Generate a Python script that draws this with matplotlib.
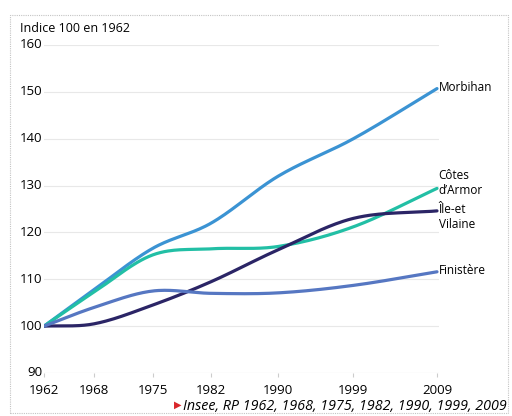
import numpy as np
import matplotlib
matplotlib.use("Agg")
import matplotlib.pyplot as plt
from matplotlib.patches import Rectangle

plt.rcParams['font.family'] = ['Open Sans', 'DejaVu Sans']

years = [1962, 1968, 1975, 1982, 1990, 1999, 2009]
morbihan = [100, 107.8, 116.6, 122.0, 132.0, 140.0, 150.7]
cotes_armor = [100, 107.3, 115.2, 116.5, 117.0, 121.2, 129.4]
ille_vilaine = [100, 100.5, 104.5, 109.5, 116.3, 123.0, 124.6]
finistere = [100, 104.0, 107.5, 107.0, 107.1, 108.7, 111.6]

labels = ["Morbihan", "Côtes\nd\u2019Armor", "Île-et\nVilaine", "Finistère"]
colors = ["#3b93d3", "#22bfa5", "#2b2566", "#5677c2"]
yticks = [90, 100, 110, 120, 130, 140, 150, 160]


def smooth(x, y, n=30):
    # cubic hermite with catmull-rom style tangents
    x = np.asarray(x, float)
    y = np.asarray(y, float)
    m = np.zeros_like(y)
    m[1:-1] = (y[2:] - y[:-2]) / (x[2:] - x[:-2])
    m[0] = (y[1] - y[0]) / (x[1] - x[0])
    m[-1] = (y[-1] - y[-2]) / (x[-1] - x[-2])
    xs, ys = [], []
    for i in range(len(x) - 1):
        h = x[i + 1] - x[i]
        t = np.linspace(0, 1, n, endpoint=False)
        h00 = 2 * t**3 - 3 * t**2 + 1
        h10 = t**3 - 2 * t**2 + t
        h01 = -2 * t**3 + 3 * t**2
        h11 = t**3 - t**2
        xs.append(x[i] + t * h)
        ys.append(h00 * y[i] + h10 * h * m[i] + h01 * y[i + 1] + h11 * h * m[i + 1])
    xs.append([x[-1]])
    ys.append([y[-1]])
    return np.concatenate(xs), np.concatenate(ys)


fig = plt.figure(figsize=(5.12, 4.16), dpi=100)
ax = fig.add_axes([44 / 512, 1 - 373 / 416, (439 - 44) / 512, (373 - 45) / 416])

# dotted frame around the chart
fig.patches.append(Rectangle((10 / 512, 3 / 416), 498 / 512, 398 / 416,
                             transform=fig.transFigure, fill=False,
                             edgecolor="#c4c4c4", linestyle=(0, (1, 1)), lw=0.8))

ax.set_xlim(1962, 2009 + (439 - 437) / 8.36)
ax.set_ylim(90, 160)

for v in yticks[1:]:
    ax.axhline(v, color="#e8e8e8", lw=0.8, zorder=0)
ax.axhline(90, color="#cfcfcf", lw=0.8, zorder=0)

series = [morbihan, cotes_armor, ille_vilaine, finistere]
for vals, col in zip(series, colors):
    xs, ys = smooth(years, vals)
    ax.plot(xs, ys, color=col, lw=2.3, solid_capstyle='round', zorder=3)

for lab, vals in zip(labels, series):
    if lab.startswith('C'):
        ax.text(2009.2, vals[-1] - 1.8, lab, fontsize=8.5, va='bottom', ha='left',
                linespacing=1.15, clip_on=False)
    elif lab.startswith('Î'):
        ax.text(2009.2, vals[-1] + 1.6, lab, fontsize=8.5, va='top', ha='left',
                linespacing=1.2, clip_on=False)
    else:
        ax.text(2009.2, vals[-1] + 0.2, lab, fontsize=8.5, va='center', ha='left',
                clip_on=False)

for s in ax.spines.values():
    s.set_visible(False)
ax.set_xticks(years)
ax.set_xticklabels([str(y) for y in years])
ax.set_yticks(yticks)
ax.tick_params(axis='y', length=0, pad=1, labelsize=9.5)
ax.tick_params(axis='x', length=3, color="#cccccc", pad=5, labelsize=9.5)
for t in ax.get_yticklabels():
    t.set_verticalalignment('center')

fig.text(20 / 512, 1 - 28 / 416, "Indice 100 en 1962", fontsize=9, va='center', ha='left')
fig.text(507 / 512, 1 - 406 / 416, "Insee, RP 1962, 1968, 1975, 1982, 1990, 1999, 2009",
         fontsize=10.3, style='italic', va='center', ha='right')
fig.text(174 / 512, 1 - 405 / 416, "\u25b6", fontsize=7, color="#d9262b", va='center', ha='left',
         family='DejaVu Sans')

fig.savefig("out.png", dpi=100)
